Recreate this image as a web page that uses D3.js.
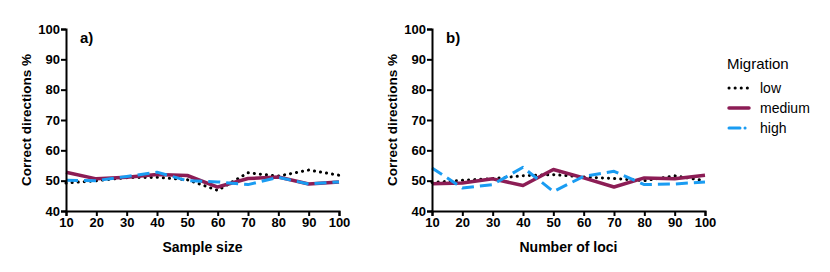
<!DOCTYPE html>
<html>
<head>
<script src="https://d3js.org/d3.v7.min.js"></script>
<style>
body { margin: 0; background: white; font-family: "Liberation Sans", Arial, sans-serif; }
</style>
</head>
<body>
<script>
var xTicks = [10, 20, 30, 40, 50, 60, 70, 80, 90, 100];
var yTicks = [40, 50, 60, 70, 80, 90, 100];
var seriesNames = ["low", "medium", "high"];

// panel a: sample size
var lowA    = [49.2, 50.0, 51.0, 51.1, 50.3, 46.8, 52.6, 51.5, 53.5, 51.8];
var mediumA = [52.8, 50.6, 51.1, 52.0, 51.7, 47.9, 50.7, 51.2, 48.9, 49.6];
var highA   = [50.1, 50.0, 51.4, 52.8, 50.0, 49.6, 48.7, 51.1, 48.9, 49.6];
// panel b: number of loci
var lowB    = [49.4, 50.1, 50.7, 51.6, 52.0, 51.2, 50.7, 50.0, 51.6, 50.0];
var mediumB = [49.0, 49.2, 50.6, 48.4, 53.7, 50.9, 47.9, 50.9, 50.6, 51.8];
var highB   = [54.2, 47.6, 48.7, 54.4, 46.4, 51.4, 53.1, 48.7, 48.9, 49.6];

var width = 830, height = 272;
var svg = d3.select("body").append("svg").attr("width", width).attr("height", height);

var styles = {
  low:    { color: "#000000", width: 3, dash: "0.1 6", cap: "round" },
  medium: { color: "#8c1d55", width: 3.5, dash: null, cap: "butt" },
  high:   { color: "#1a9cf2", width: 3, dash: "12 6", cap: "butt" }
};

var y = d3.scaleLinear().domain([40, 100]).range([211, 29]);

function panel(x0, x1, label, xTitle, data) {
  var x = d3.scaleLinear().domain([10, 100]).range([x0, x1]);
  var g = svg.append("g");

  var line = d3.line().x(function(d, i) { return x(xTicks[i]); }).y(function(d) { return y(d); });
  seriesNames.forEach(function(name) {
    var s = styles[name];
    g.append("path")
      .attr("d", line(data[name]))
      .attr("fill", "none")
      .attr("stroke", s.color)
      .attr("stroke-width", s.width)
      .attr("stroke-linecap", s.cap)
      .attr("stroke-linejoin", "round")
      .attr("stroke-dasharray", s.dash);
  });

  var xa = g.append("g").attr("transform", "translate(0," + y(40) + ")")
    .call(d3.axisBottom(x).tickValues(xTicks).tickSizeOuter(0).tickSize(5).tickPadding(2));
  var ya = g.append("g").attr("transform", "translate(" + x0 + ",0)")
    .call(d3.axisLeft(y).tickValues(yTicks).tickSizeOuter(0).tickSize(5).tickPadding(1));
  [xa, ya].forEach(function(a) {
    a.selectAll("path, line").attr("stroke", "#000").attr("stroke-width", 2);
    a.selectAll("text").attr("font-size", 13).attr("font-weight", "bold")
      .attr("font-family", "Liberation Sans, Arial, sans-serif").attr("fill", "#000");
  });

  g.append("text").attr("x", (x0 + x1) / 2).attr("y", 252)
    .attr("text-anchor", "middle").attr("font-size", 14).attr("font-weight", "bold")
    .text(xTitle);
  g.append("text").attr("transform", "translate(" + (x0 - 35) + ",120) rotate(-90)")
    .attr("text-anchor", "middle").attr("font-size", 13.5).attr("font-weight", "bold")
    .text("Correct directions %");
  g.append("text").attr("x", x0 + 14).attr("y", 43)
    .attr("font-size", 15).attr("font-weight", "bold").text(label);
}

panel(66, 339, "a)", "Sample size", { low: lowA, medium: mediumA, high: highA });
panel(432, 705, "b)", "Number of loci", { low: lowB, medium: mediumB, high: highB });

// legend
var leg = svg.append("g").attr("transform", "translate(727,0)");
leg.append("text").attr("x", 0).attr("y", 69).attr("font-size", 15).text("Migration");
seriesNames.forEach(function(name, i) {
  var s = styles[name];
  var yy = 88 + i * 20;
  leg.append("line").attr("x1", 2).attr("x2", 22).attr("y1", yy).attr("y2", yy)
    .attr("stroke", s.color).attr("stroke-width", s.width)
    .attr("stroke-linecap", name === "medium" ? "round" : s.cap)
    .attr("stroke-dasharray", name === "high" ? "11 5 0.1 5" : (name === "low" ? "0.1 6" : null))
    .style("stroke-linecap", name === "high" ? "round" : null);
  leg.append("text").attr("x", 33).attr("y", yy + 5).attr("font-size", 14).text(name);
});
</script>
</body>
</html>
